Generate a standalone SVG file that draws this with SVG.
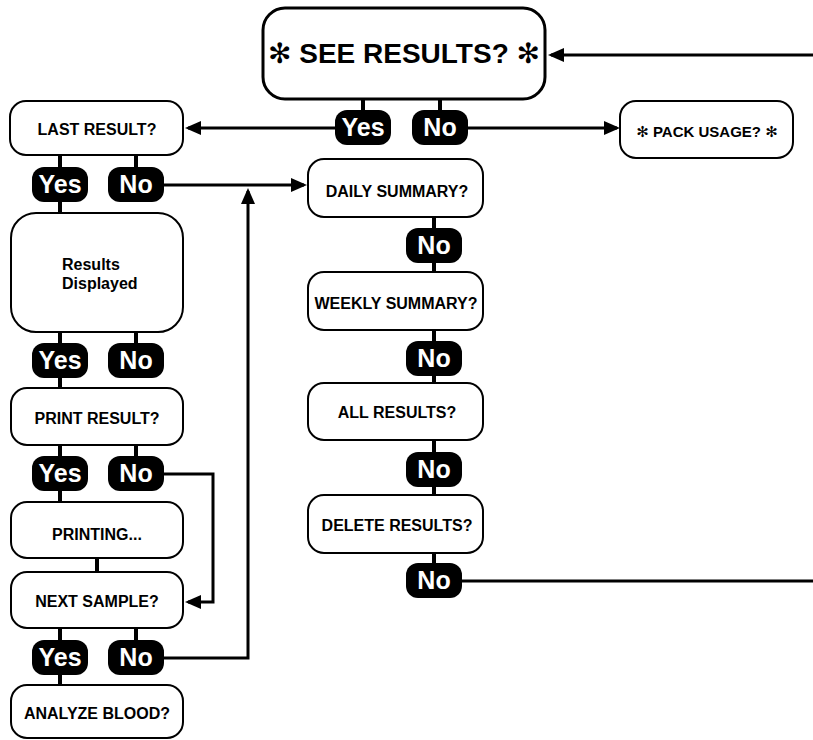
<svg xmlns="http://www.w3.org/2000/svg" width="813" height="740" viewBox="0 0 813 740">
<style>
.box{fill:#fff;stroke:#000;stroke-width:2}
.big{fill:#fff;stroke:#000;stroke-width:3}
.t{font-family:"Liberation Sans",Arial,sans-serif;font-weight:bold;font-size:16px;fill:#000;text-anchor:middle}
.pill{fill:#000}
.pt{font-family:"Liberation Sans",Arial,sans-serif;font-weight:bold;font-size:25px;fill:#fff;text-anchor:middle}
.c{fill:none;stroke:#000;stroke-width:3}
.s{fill:none;stroke:#000;stroke-width:4}
.ast{font-family:"DejaVu Sans",sans-serif}
</style>
<defs>
<marker id="ah" markerUnits="userSpaceOnUse" viewBox="0 0 16 14" refX="13" refY="7" markerWidth="16" markerHeight="14" orient="auto">
<path d="M0,0 L16,7 L0,14 z" fill="#000"/>
</marker>
</defs>
<rect width="813" height="740" fill="#fff"/>
<g id="connectors">
<path class="c" d="M813,55 H551" marker-end="url(#ah)"/>
<path class="s" d="M363,99 V112 M440,99 V112"/>
<path class="c" d="M336,128 H188" marker-end="url(#ah)"/>
<path class="c" d="M466,128 H617" marker-end="url(#ah)"/>
<path class="s" d="M60,155 V168 M136,155 V168"/>
<path class="c" d="M162,185 H304" marker-end="url(#ah)"/>
<path class="s" d="M60,201 V214"/>
<path class="s" d="M60,332 V344 M136,332 V344"/>
<path class="s" d="M60,377 V389"/>
<path class="s" d="M60,445 V457 M136,445 V457"/>
<path class="c" d="M162,474 H213 V602 H188" marker-end="url(#ah)"/>
<path class="s" d="M60,490 V503"/>
<path class="s" d="M97,558 V573"/>
<path class="s" d="M60,628 V641 M136,628 V641"/>
<path class="s" d="M60,674 V686"/>
<path class="c" d="M162,658 H248 V191" marker-end="url(#ah)"/>
<path class="s" d="M434,217 V229 M434,262 V273 M434,330 V342 M434,375 V384 M434,440 V453 M434,486 V496 M434,553 V564"/>
<path class="c" d="M460,581 H813"/>
</g>
<g id="see-results">
<rect class="big" x="263" y="8" width="282" height="91" rx="22"/>
<text class="t" x="404" y="63" style="font-size:28px"><tspan class="ast">✻</tspan> SEE RESULTS? <tspan class="ast">✻</tspan></text>
</g>
<g id="see-yes"><rect class="pill" x="335" y="110" width="56" height="35" rx="12"/><text class="pt" x="363" y="136">Yes</text></g>
<g id="see-no"><rect class="pill" x="412" y="110" width="56" height="35" rx="12"/><text class="pt" x="440" y="136">No</text></g>
<g id="pack-usage">
<rect class="box" x="620" y="101" width="173" height="57" rx="16"/>
<text class="t" x="707" y="137" style="font-size:15px"><tspan class="ast">✻</tspan> PACK USAGE? <tspan class="ast">✻</tspan></text>
</g>
<g id="last-result">
<rect class="box" x="10" y="101" width="173" height="54" rx="16"/>
<text class="t" x="97" y="135">LAST RESULT?</text>
</g>
<g id="last-yes"><rect class="pill" x="32" y="167" width="56" height="35" rx="12"/><text class="pt" x="60" y="193">Yes</text></g>
<g id="last-no"><rect class="pill" x="108" y="167" width="56" height="35" rx="12"/><text class="pt" x="136" y="193">No</text></g>
<g id="results-displayed">
<rect class="box" x="11" y="213" width="172" height="119" rx="25"/>
<text class="t" x="62" y="270" style="text-anchor:start">Results</text>
<text class="t" x="62" y="289" style="text-anchor:start">Displayed</text>
</g>
<g id="rd-yes"><rect class="pill" x="32" y="343" width="56" height="35" rx="12"/><text class="pt" x="60" y="369">Yes</text></g>
<g id="rd-no"><rect class="pill" x="108" y="343" width="56" height="35" rx="12"/><text class="pt" x="136" y="369">No</text></g>
<g id="print-result">
<rect class="box" x="11" y="388" width="172" height="57" rx="16"/>
<text class="t" x="97" y="424">PRINT RESULT?</text>
</g>
<g id="pr-yes"><rect class="pill" x="32" y="456" width="56" height="35" rx="12"/><text class="pt" x="60" y="482">Yes</text></g>
<g id="pr-no"><rect class="pill" x="108" y="456" width="56" height="35" rx="12"/><text class="pt" x="136" y="482">No</text></g>
<g id="printing">
<rect class="box" x="11" y="502" width="172" height="56" rx="16"/>
<text class="t" x="97" y="540">PRINTING...</text>
</g>
<g id="next-sample">
<rect class="box" x="11" y="572" width="172" height="56" rx="16"/>
<text class="t" x="97" y="607">NEXT SAMPLE?</text>
</g>
<g id="ns-yes"><rect class="pill" x="32" y="640" width="56" height="35" rx="12"/><text class="pt" x="60" y="666">Yes</text></g>
<g id="ns-no"><rect class="pill" x="108" y="640" width="56" height="35" rx="12"/><text class="pt" x="136" y="666">No</text></g>
<g id="analyze-blood">
<rect class="box" x="11" y="685" width="172" height="53" rx="16"/>
<text class="t" x="97" y="719">ANALYZE BLOOD?</text>
</g>
<g id="daily-summary">
<rect class="box" x="308" y="159" width="175" height="58" rx="16"/>
<text class="t" x="397" y="197">DAILY SUMMARY?</text>
</g>
<g id="daily-no"><rect class="pill" x="406" y="228" width="56" height="35" rx="12"/><text class="pt" x="434" y="254">No</text></g>
<g id="weekly-summary">
<rect class="box" x="308" y="272" width="175" height="58" rx="16"/>
<text class="t" x="396" y="309">WEEKLY SUMMARY?</text>
</g>
<g id="weekly-no"><rect class="pill" x="406" y="341" width="56" height="35" rx="12"/><text class="pt" x="434" y="367">No</text></g>
<g id="all-results">
<rect class="box" x="308" y="383" width="175" height="57" rx="16"/>
<text class="t" x="397" y="418">ALL RESULTS?</text>
</g>
<g id="all-no"><rect class="pill" x="406" y="452" width="56" height="35" rx="12"/><text class="pt" x="434" y="478">No</text></g>
<g id="delete-results">
<rect class="box" x="308" y="495" width="175" height="58" rx="16"/>
<text class="t" x="397" y="531">DELETE RESULTS?</text>
</g>
<g id="delete-no"><rect class="pill" x="406" y="563" width="56" height="35" rx="12"/><text class="pt" x="434" y="589">No</text></g>
</svg>
